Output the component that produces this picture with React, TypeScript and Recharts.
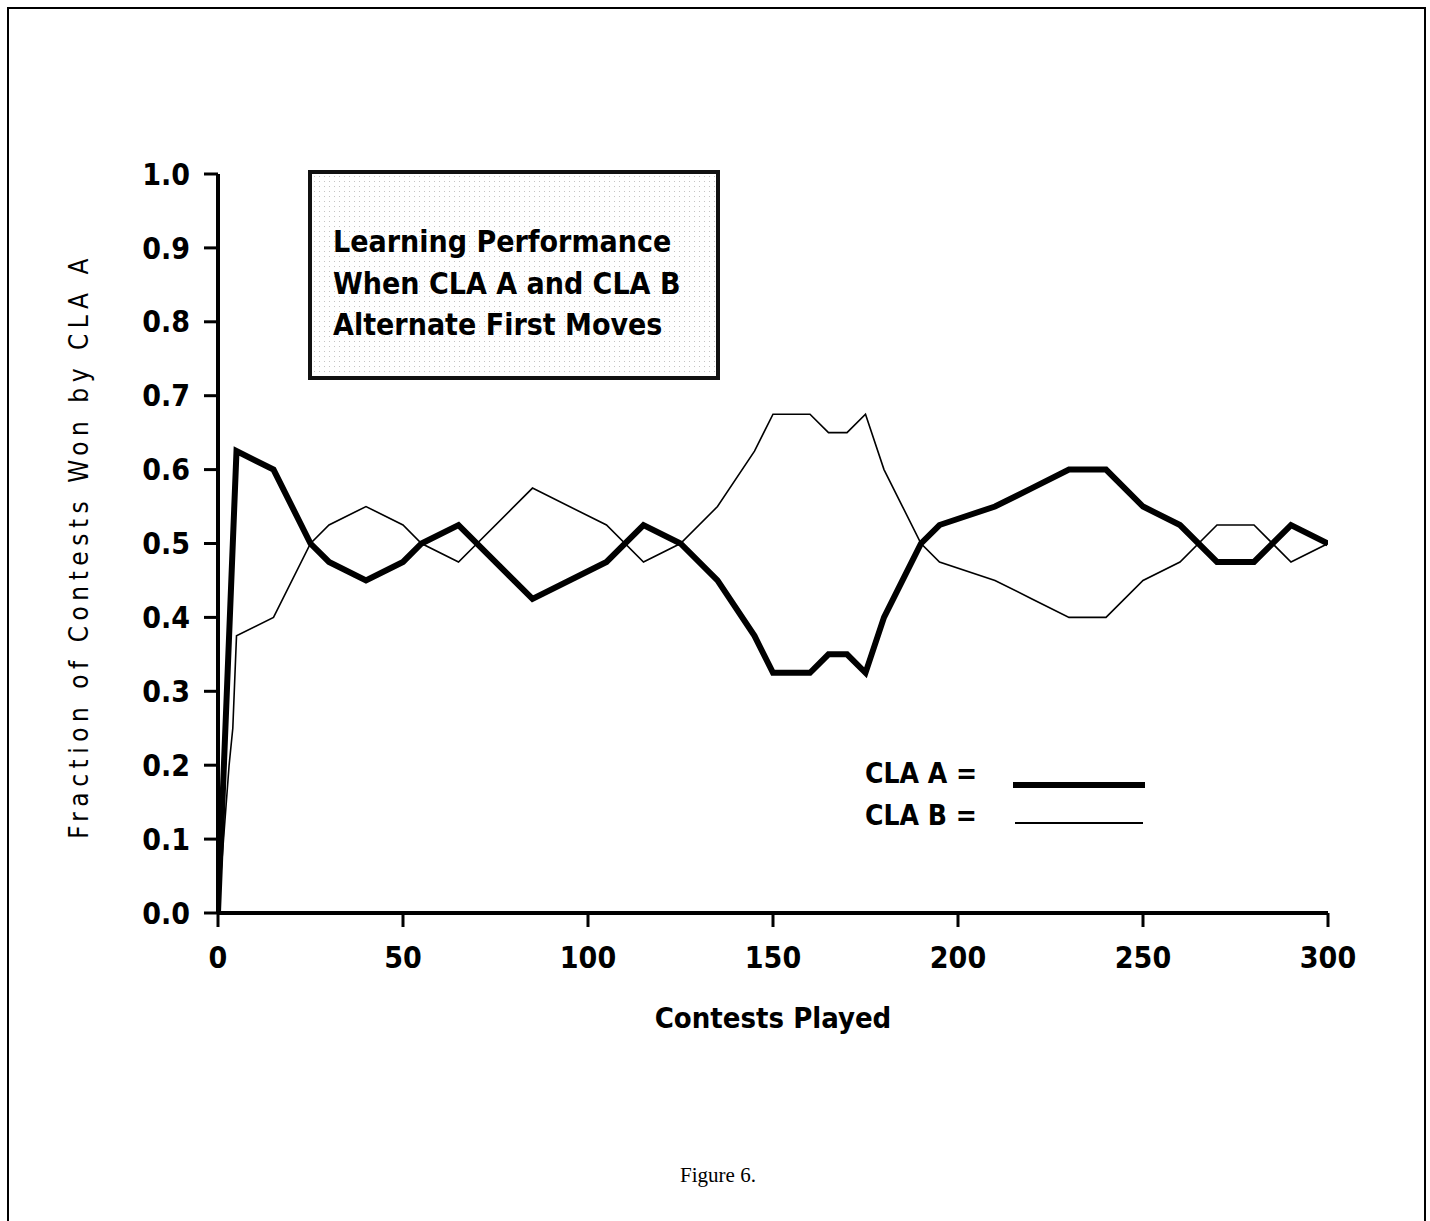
import React from 'react';
import { LineChart, Line, XAxis, YAxis } from 'recharts';

// Contests played (x) and fraction of contests won (y)
const CLA_A_X = [0, 5, 15, 25, 30, 40, 50, 55, 65, 85, 105, 115, 125, 135, 145, 150, 160, 165, 170, 175, 180, 185, 190, 195, 210, 220, 230, 240, 250, 260, 270, 280, 290, 300];
const CLA_A_Y = [0, 0.625, 0.6, 0.5, 0.475, 0.45, 0.475, 0.5, 0.525, 0.425, 0.475, 0.525, 0.5, 0.45, 0.375, 0.325, 0.325, 0.35, 0.35, 0.325, 0.4, 0.45, 0.5, 0.525, 0.55, 0.575, 0.6, 0.6, 0.55, 0.525, 0.475, 0.475, 0.525, 0.5];

const CLA_B_X = [0, 3, 4, 5, 15, 25, 30, 40, 50, 55, 65, 85, 105, 115, 125, 135, 145, 150, 160, 165, 170, 175, 180, 185, 190, 195, 210, 220, 230, 240, 250, 260, 270, 280, 290, 300];
const CLA_B_Y = [0, 0.2, 0.25, 0.375, 0.4, 0.5, 0.525, 0.55, 0.525, 0.5, 0.475, 0.575, 0.525, 0.475, 0.5, 0.55, 0.625, 0.675, 0.675, 0.65, 0.65, 0.675, 0.6, 0.55, 0.5, 0.475, 0.45, 0.425, 0.4, 0.4, 0.45, 0.475, 0.525, 0.525, 0.475, 0.5];

const X_TICKS = [0, 50, 100, 150, 200, 250, 300];
const Y_TICKS = [0, 0.1, 0.2, 0.3, 0.4, 0.5, 0.6, 0.7, 0.8, 0.9, 1.0];

const TITLE_LINES = ['Learning Performance', 'When CLA A and CLA B', 'Alternate First Moves'];
const SERIES_NAMES = ['CLA A', 'CLA B'];

const seriesA = CLA_A_X.map((x, i) => ({ x, y: CLA_A_Y[i] }));
const seriesB = CLA_B_X.map((x, i) => ({ x, y: CLA_B_Y[i] }));

const FONT = "'DejaVu Sans Condensed', 'Liberation Sans Narrow', 'DejaVu Sans', sans-serif";

export default function App() {
  return (
    <div style={{ position: 'absolute', left: 0, top: 0, width: 1430, height: 1221, background: '#fff', overflow: 'hidden' }}>
      {/* page frame */}
      <div style={{ position: 'absolute', left: 7, top: 7, width: 1415, height: 1240, borderLeft: '2px solid #000', borderTop: '2px solid #000', borderRight: '2px solid #000' }} />
      <div style={{ position: 'absolute', left: 0, top: 0 }}>
        <LineChart width={1430} height={1221} margin={{ top: 174, right: 102, bottom: 248, left: 0 }}>
          <XAxis
            dataKey="x"
            type="number"
            domain={[0, 300]}
            ticks={X_TICKS}
            allowDataOverflow
            tickSize={14}
            tickMargin={20}
            height={60}
            axisLine={{ stroke: '#000', strokeWidth: 4 }}
            tickLine={{ stroke: '#000', strokeWidth: 3 }}
            tick={{ fill: '#000', fontSize: 30, fontWeight: 700, fontFamily: FONT }}
            label={{
              content: () => (
                <text x={773} y={1018} textAnchor="middle" dominantBaseline="central" fill="#000" fontSize={29} fontWeight={700} fontFamily={FONT}>
                  Contests Played
                </text>
              ),
            }}
          />
          <YAxis
            type="number"
            domain={[0, 1]}
            ticks={Y_TICKS}
            width={218}
            tickSize={14}
            tickMargin={14}
            tickFormatter={(v: number) => v.toFixed(1)}
            axisLine={{ stroke: '#000', strokeWidth: 4 }}
            tickLine={{ stroke: '#000', strokeWidth: 3 }}
            tick={{ fill: '#000', fontSize: 30, fontWeight: 700, fontFamily: FONT }}
            label={{
              content: () => (
                <text x={79} y={546} transform="rotate(-90 79 546)" textAnchor="middle" dominantBaseline="central" fill="#000" fontSize={26} letterSpacing={5.5} fontFamily={FONT}>
                  Fraction of Contests Won by CLA A
                </text>
              ),
            }}
          />
          <Line data={seriesB} dataKey="y" name={SERIES_NAMES[1]} type="linear" stroke="#000" strokeWidth={1.6} dot={false} isAnimationActive={false} />
          <Line data={seriesA} dataKey="y" name={SERIES_NAMES[0]} type="linear" stroke="#000" strokeWidth={6} strokeLinejoin="miter" dot={false} isAnimationActive={false} />
        </LineChart>
      </div>
      {/* title box */}
      <div
        style={{
          position: 'absolute', left: 308, top: 170, width: 404, height: 202,
          border: '4px solid #111',
          backgroundColor: '#fff',
          backgroundImage: 'radial-gradient(#c4c4c4 0.7px, transparent 0.9px)',
          backgroundSize: '5px 5px',
          boxSizing: 'content-box',
          fontFamily: FONT, fontWeight: 700, fontSize: 30, lineHeight: '41.5px', color: '#000',
        }}
      >
        <div style={{ position: 'absolute', left: 21, top: 47 }}>
          {TITLE_LINES.map((t) => (
            <div key={t} style={{ whiteSpace: 'nowrap' }}>{t}</div>
          ))}
        </div>
      </div>
      {/* legend */}
      <div style={{ position: 'absolute', left: 865, top: 758, fontFamily: FONT, fontWeight: 700, fontSize: 28, lineHeight: '32px', color: '#000', whiteSpace: 'nowrap' }}>{SERIES_NAMES[0]} =</div>
      <div style={{ position: 'absolute', left: 1013, top: 782, width: 132, height: 6, background: '#000' }} />
      <div style={{ position: 'absolute', left: 865, top: 800, fontFamily: FONT, fontWeight: 700, fontSize: 28, lineHeight: '32px', color: '#000', whiteSpace: 'nowrap' }}>{SERIES_NAMES[1]} =</div>
      <div style={{ position: 'absolute', left: 1015, top: 822, width: 128, height: 2, background: '#000' }} />
      {/* caption */}
      <div style={{ position: 'absolute', left: 0, width: 1436, top: 1163, textAlign: 'center', fontFamily: "'Liberation Serif', 'DejaVu Serif', serif", fontSize: 21, color: '#000' }}>Figure 6.</div>
    </div>
  );
}
